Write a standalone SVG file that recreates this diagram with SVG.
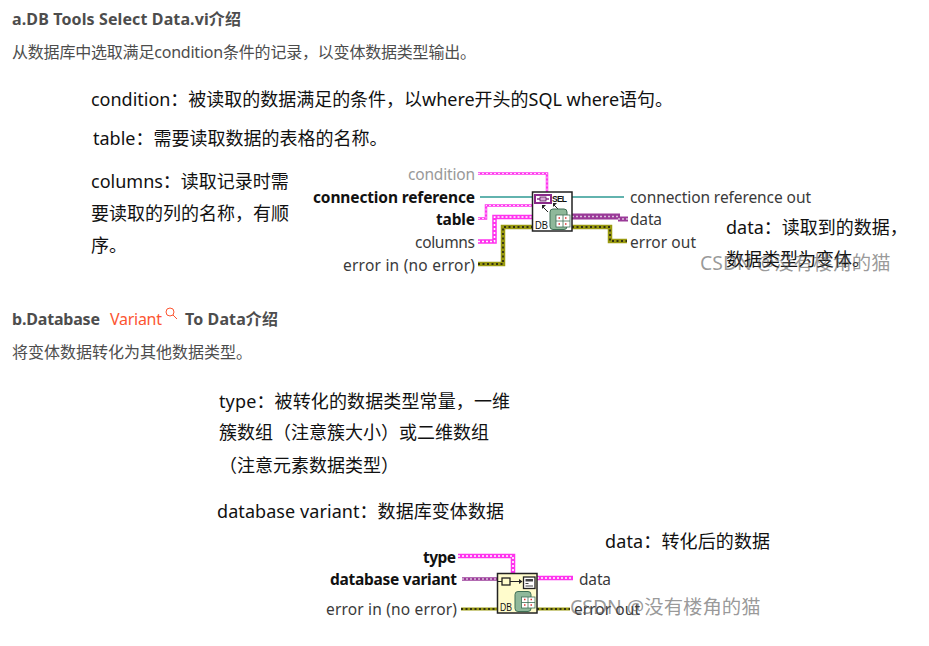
<svg xmlns="http://www.w3.org/2000/svg" width="929" height="646" viewBox="0 0 929 646">
<style>
text{font-family:"Noto Sans","Noto Sans CJK SC",sans-serif;white-space:pre}
.h{font-size:16px;font-weight:700;fill:#4d4d4d}
.p{font-size:16px;fill:#4d4d4d}
.n{font-size:18px;fill:#111}
.l{font-size:15.500px;fill:#3a3a3a}
.b{font-size:15.500px;font-weight:700;fill:#111}
.g{font-size:15.500px;fill:#999}
.wm{font-size:19.400px;fill:#555;fill-opacity:.6}
.w{fill:none}
.pk{stroke:#ff33ee;stroke-width:2.500}
.pkd{stroke:#fff;stroke-width:.8;stroke-dasharray:2 2}
.pkb{stroke:#ff33ee;stroke-width:4.500}
.pkbd{stroke:#fff;stroke-width:1.600;stroke-dasharray:2 2}
.te{stroke:#2f9a94;stroke-width:1.500}
.vb{stroke:#9a3a98;stroke-width:6}
.vn{stroke:#9a3a98;stroke-width:3.500}
.vd{stroke:#dcc0dc;stroke-width:1.400;stroke-dasharray:2 2}
.e{stroke:#9a9a10;stroke-width:4.500}
.en{stroke:#9a9a10;stroke-width:3}
.ed{stroke:#111;stroke-width:1.400;stroke-dasharray:2 2.500}
.box{fill:#fff;stroke:#222;stroke-width:1.500}
.boxy{fill:#fffccc;stroke:#222;stroke-width:1.500}
.db{font-family:"Liberation Sans",sans-serif;font-size:11px;fill:#111}
.sel{font-family:"Liberation Sans",sans-serif;font-size:8.500px;font-weight:700;fill:#111}
.cyl{fill:#8fb89a;stroke:#3f6f55}
.tb{fill:#fff;stroke:#3f6f55;stroke-width:.8}
.gl{stroke:#3f6f55;stroke-width:.8}
.rd{stroke:#d33;stroke-width:1.500}
</style>

<text class="h" x="12" y="25" textLength="229">a.DB Tools Select Data.vi介绍</text>
<text class="p" x="12" y="58" textLength="464">从数据库中选取满足condition条件的记录，以变体数据类型输出。</text>
<text class="n" x="91" y="106" textLength="582">condition：被读取的数据满足的条件，以where开头的SQL where语句。</text>
<text class="n" x="93" y="145">table：需要读取数据的表格的名称。</text>
<text class="n" x="91" y="188">columns：读取记录时需</text>
<text class="n" x="91" y="220">要读取的列的名称，有顺</text>
<text class="n" x="91" y="252">序。</text>
<text class="n" x="726" y="234">data：读取到的数据，</text>
<text class="n" x="726" y="266">数据类型为变体。</text>

<text class="g" x="408" y="180" textLength="67">condition</text>
<text class="b" x="313" y="203" textLength="162">connection reference</text>
<text class="b" x="436" y="225" textLength="39">table</text>
<text class="l" x="415" y="248" textLength="60">columns</text>
<text class="l" x="343" y="271" textLength="132">error in (no error)</text>
<text class="l" x="630" y="203" textLength="181">connection reference out</text>
<text class="l" x="630" y="225" textLength="32">data</text>
<text class="l" x="630" y="248" textLength="66">error out</text>

<g id="connectors-a">
<path class="w pk" d="M478 173.500H547V192"/><path class="w pkd" d="M478 173.500H547V192"/>
<path class="w te" d="M480 197H533M572 197H624"/>
<path class="w pk" d="M478 218.500H486V205.500H533"/><path class="w pkd" d="M478 218.500H486V205.500H533"/>
<path class="w pkb" d="M478 241.500H494.500V217H533"/><path class="w pkbd" d="M478 241.500H494.500V217H533"/>
<path class="w e" d="M478 264H503V227H533"/><path class="w ed" d="M478 264H503V227H533"/>
<path class="w vb" d="M572 216.500H620"/><path class="w vd" d="M572 216.500H620"/>
<path class="w vb" style="stroke-width:5" d="M618 219H628"/><path class="w vd" d="M618 219H628"/>
<path class="w e" d="M572 227H610V241H627"/><path class="w ed" d="M572 227H610V241H627"/>
</g>

<g id="db-tools-select-data">
<rect class="box" x="532.500" y="192" width="39.500" height="39"/>
<rect x="535" y="195" width="16" height="8" fill="#fff" stroke="#8a2a8a" stroke-width="2"/>
<path d="M537 199h12" stroke="#8a2a8a" stroke-width="1.500"/>
<rect x="540" y="197" width="6" height="4" fill="#d8a8d8" stroke="#5a1a5a" stroke-width=".8"/>
<text class="sel" x="552" y="202" textLength="15">SEL</text>
<path d="M548 212l-5-5M558 209l-4-4" stroke="#222" stroke-width="1"/>
<path d="M542 209v-4h4zM553 207v-4h4z" fill="#222"/>
<rect class="cyl" x="550" y="209" width="17" height="20.500" rx="3"/>
<rect class="tb" x="556" y="215" width="14" height="12"/>
<path class="gl" d="M556 221h14M563 215v12"/>
<path class="rd" d="M558.500 218h1.500M565 218h1.500M558.500 224h1.500M565 224h1.500"/>
<text class="db" x="535" y="228.500" textLength="13" lengthAdjust="spacingAndGlyphs">DB</text>
</g>

<text class="h" x="12" y="325" textLength="88">b.Database</text>
<text x="110" y="325" font-size="16" fill="#fc5531" textLength="52">Variant</text>
<g fill="none" stroke="#fc5531" stroke-width="1"><circle cx="170" cy="312" r="4"/><path d="M173 315l4 4"/></g>
<text class="h" x="185" y="325" textLength="93">To Data介绍</text>
<text class="p" x="12" y="358">将变体数据转化为其他数据类型。</text>
<text class="n" x="219" y="408" textLength="291">type：被转化的数据类型常量，一维</text>
<text class="n" x="219" y="439">簇数组（注意簇大小）或二维数组</text>
<text class="n" x="219" y="472">（注意元素数据类型）</text>
<text class="n" x="217" y="518" textLength="287">database variant：数据库变体数据</text>
<text class="n" x="605" y="548" textLength="165">data：转化后的数据</text>

<text class="b" x="423" y="563" textLength="33">type</text>
<text class="b" x="330" y="585" textLength="127">database variant</text>
<text class="l" x="326" y="615" textLength="131">error in (no error)</text>
<text class="l" x="579" y="585" textLength="32">data</text>
<text class="l" x="574" y="615" textLength="66">error out</text>

<g id="connectors-b">
<path class="w pkb" d="M458 556H513V574"/><path class="w pkbd" d="M458 556H513V574"/>
<path class="w vn" d="M462 579H497"/><path class="w vd" d="M462 579H497"/>
<path class="w pkb" d="M537 578H573"/><path class="w pkbd" d="M537 578H573"/>
<path class="w en" d="M461 609H497M537 609H570"/><path class="w ed" d="M461 609H497M537 609H570"/>
</g>

<g id="database-variant-to-data">
<rect class="boxy" x="497.500" y="573.500" width="39.500" height="39.500"/>
<rect x="502" y="578" width="8" height="7" fill="#fffccc" stroke="#222" stroke-width="1.300"/>
<path d="M498 581.500h4M510 581.500h9" stroke="#222" stroke-width="1.200"/><path d="M519 579l3.500 2.500l-3.500 2.500z" fill="#222"/>
<rect x="523.500" y="577" width="11.500" height="11.500" fill="#fff" stroke="#222" stroke-width="1.300"/>
<rect x="525.500" y="579" width="7.500" height="2.500" fill="#444"/><path d="M525.500 583.500h3M525.500 586h7.500" stroke="#444" stroke-width="1.200"/>
<rect class="cyl" x="515" y="591.500" width="16" height="20" rx="3"/>
<rect class="tb" x="521.500" y="597" width="13.500" height="11"/>
<path class="gl" d="M521.500 602.500h13.500M528 597v11"/>
<path class="rd" d="M524 599.500h1.500M530.500 599.500h1.500M524 605h1.500M530.500 605h1.500"/>
<text class="db" x="500" y="611" textLength="12" lengthAdjust="spacingAndGlyphs">DB</text>
</g>

<text class="wm" x="700" y="270">CSDN @没有楼角的猫</text>
<text class="wm" x="570" y="614">CSDN @没有楼角的猫</text>
</svg>
